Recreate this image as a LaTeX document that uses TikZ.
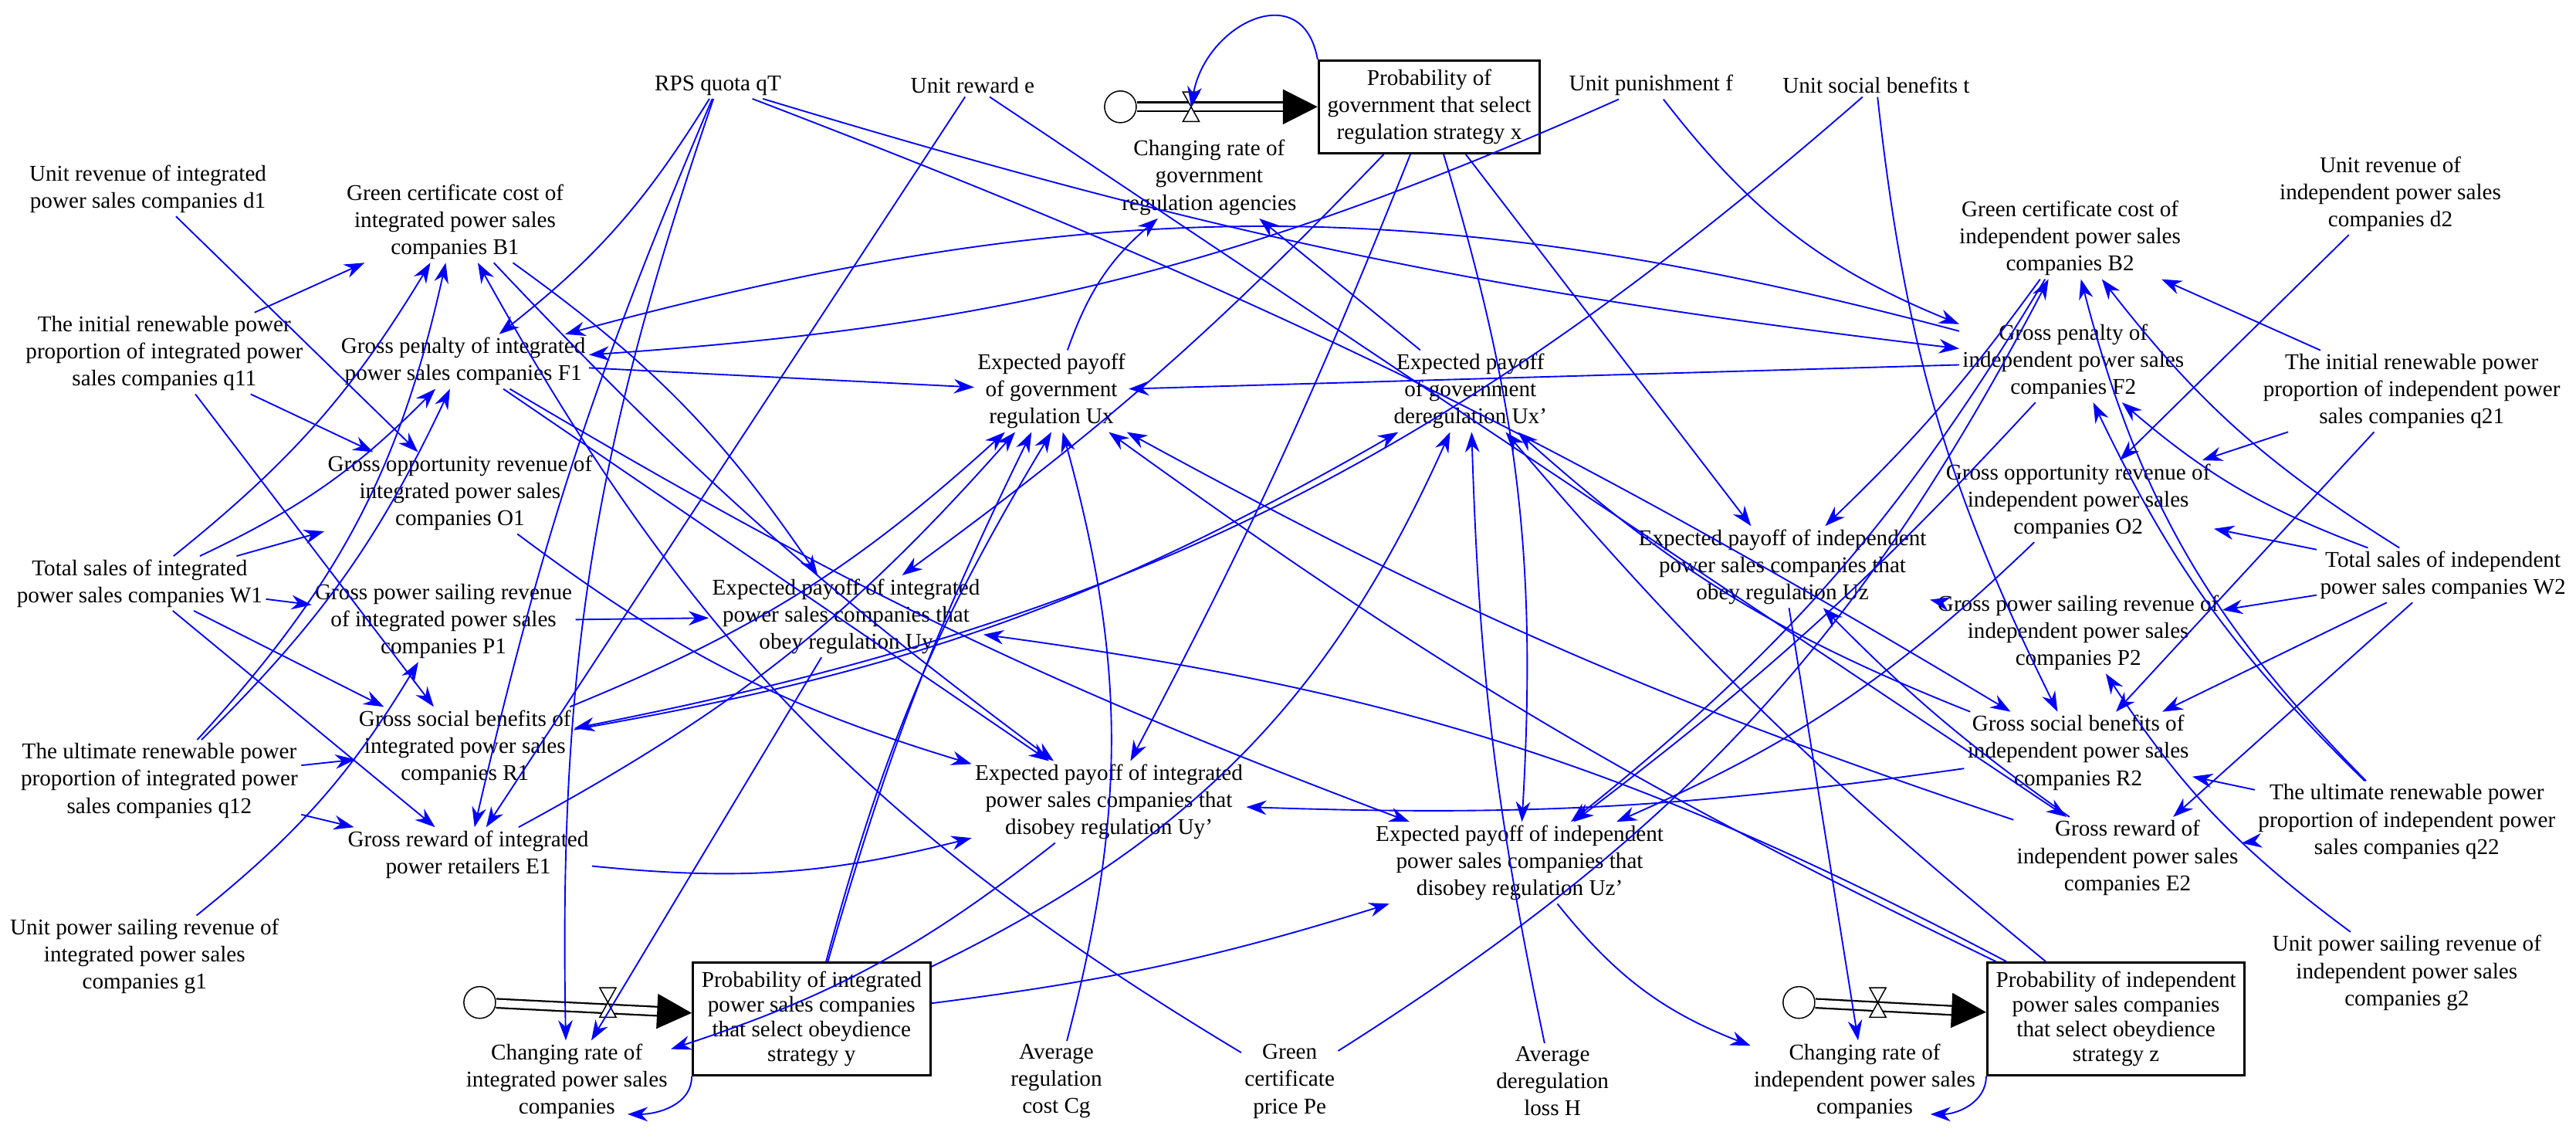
\documentclass[tikz,border=0pt]{standalone}
\usepackage{fontspec}
\setmainfont{Liberation Serif}
\usetikzlibrary{arrows.meta}
\begin{document}
\begin{tikzpicture}[x=0.02cm,y=-0.02cm,
 lab/.style={align=center,font=\fontsize{7.8}{9.4}\selectfont,inner sep=1pt},
 stock/.style={lab,draw,thick,inner sep=3pt,fill=white},
 arr/.style={-{Stealth[length=7pt,width=5pt]},blue,line width=0.5pt},
 pipe/.style={double distance=2.5pt,line width=0.6pt}]
\useasboundingbox (0,0) rectangle (1568,693);
% variables
\node[lab] (qT) at (437,52) {RPS quota qT};
\node[lab] (e) at (592,52) {Unit reward e};
\node[lab] (f) at (1005,52) {Unit punishment f};
\node[lab] (t) at (1142,52) {Unit social benefits t};
\node[stock] (X) at (870,65) {Probability of\\government that select\\regulation strategy x};
\node[lab] (gx) at (736,108) {Changing rate of\\government\\regulation agencies};
\node[lab] (d1) at (90,115) {Unit revenue of integrated\\power sales companies d1};
\node[lab] (B1) at (277,135) {Green certificate cost of\\integrated power sales\\companies B1};
\node[lab] (q11) at (100,215) {The initial renewable power\\proportion of integrated power\\sales companies q11};
\node[lab] (F1) at (282,220) {Gross penalty of integrated\\power sales companies F1};
\node[lab] (Ux) at (640,238) {Expected payoff\\of government\\regulation Ux};
\node[lab] (Uxp) at (895,238) {Expected payoff\\of government\\deregulation Ux'};
\node[lab] (O1) at (280,300) {Gross opportunity revenue of\\integrated power sales\\companies O1};
\node[lab] (W1) at (85,355) {Total sales of integrated\\power sales companies W1};
\node[lab] (P1) at (270,378) {Gross power sailing revenue\\of integrated power sales\\companies P1};
\node[lab] (Uy) at (515,375) {Expected payoff of integrated\\power sales companies that\\obey regulation Uy};
\node[lab] (B2) at (1260,145) {Green certificate cost of\\independent power sales\\companies B2};
\node[lab] (d2) at (1455,118) {Unit revenue of\\independent power sales\\companies d2};
\node[lab] (F2) at (1262,220) {Gross penalty of\\independent power sales\\companies F2};
\node[lab] (q21) at (1468,238) {The initial renewable power\\proportion of independent power\\sales companies q21};
\node[lab] (O2) at (1265,305) {Gross opportunity revenue of\\independent power sales\\companies O2};
\node[lab] (W2) at (1487,350) {Total sales of independent\\power sales companies W2};
\node[lab] (Uz) at (1085,345) {Expected payoff of independent\\power sales companies that\\obey regulation Uz};
\node[lab] (P2) at (1265,385) {Gross power sailing revenue of\\independent power sales\\companies P2};
\node[lab] (R1) at (283,455) {Gross social benefits of\\integrated power sales\\companies R1};
\node[lab] (q12) at (97,475) {The ultimate renewable power\\proportion of integrated power\\sales companies q12};
\node[lab] (Uyp) at (675,488) {Expected payoff of integrated\\power sales companies that\\disobey regulation Uy'};
\node[lab] (R2) at (1265,458) {Gross social benefits of\\independent power sales\\companies R2};
\node[lab] (q22) at (1465,500) {The ultimate renewable power\\proportion of independent power\\sales companies q22};
\node[lab] (E1) at (285,520) {Gross reward of integrated\\power retailers E1};
\node[lab] (Uzp) at (925,525) {Expected payoff of independent\\power sales companies that\\disobey regulation Uz'};
\node[lab] (E2) at (1295,522) {Gross reward of\\independent power sales\\companies E2};
\node[lab] (g1) at (88,582) {Unit power sailing revenue of\\integrated power sales\\companies g1};
\node[lab] (g2) at (1465,592) {Unit power sailing revenue of\\independent power sales\\companies g2};
\node[stock,font=\fontsize{7.8}{8.6}\selectfont] (Y) at (494,620) {Probability of integrated\\power sales companies\\that select obeydience\\strategy y};
\node[lab] (gy) at (345,658) {Changing rate of\\integrated power sales\\companies};
\node[lab] (Cg) at (643,658) {Average\\regulation\\cost Cg};
\node[lab] (Pe) at (785,658) {Green\\certificate\\price Pe};
\node[lab] (H) at (945,658) {Average\\deregulation\\loss H};
\node[stock,font=\fontsize{7.8}{8.6}\selectfont] (Z) at (1288,620) {Probability of independent\\power sales companies\\that select obeydience\\strategy z};
\node[lab] (gz) at (1135,658) {Changing rate of\\independent power sales\\companies};
% flows: clouds, pipes, valves
\foreach \cx/\cy/\vx/\st/\nm in {682/65/725/X/vx,292/610/370/Y/vy,1095/610/1143/Z/vz}{
 \node[draw,circle,inner sep=0pt,minimum size=11pt,fill=white] (c\nm) at (\cx,\cy) {};
 \coordinate (\nm) at (\vx,\cy);
 \draw[pipe,-{Triangle[length=12pt,width=12pt]}] (c\nm) -- (\st);
 \draw[fill=white] (\vx-5,\cy-9) -- (\vx+5,\cy-9) -- (\vx-5,\cy+9) -- (\vx+5,\cy+9) -- cycle;
}
\coordinate (ly) at (382,678);
\coordinate (lz) at (1175,678);
% loops
\draw[arr] (X.north west) to[out=100,in=80,looseness=1.6] (vx);
\draw[arr] (Y.south west) to[out=-90,in=0] (ly);
\draw[arr] (Z.south west) to[out=-90,in=0] (lz);
% left inputs
\foreach \a/\b/\bb in {d1/O1/0,q11/B1/0,q11/R1/0,q11/O1/0,W1/B1/-10,W1/F1/-10,W1/O1/0,W1/P1/0,W1/R1/0,W1/E1/0,q12/B1/-15,q12/F1/-10,q12/R1/0,q12/E1/0,g1/P1/-10}
 \draw[arr] (\a) to[bend left=\bb] (\b);
% right inputs
\foreach \a/\b/\bb in {d2/O2/0,q21/B2/0,q21/O2/0,q21/R2/0,W2/B2/10,W2/F2/10,W2/O2/0,W2/P2/0,W2/R2/0,W2/E2/0,q22/B2/15,q22/F2/10,q22/R2/0,q22/E2/0,g2/P2/10}
 \draw[arr] (\a) to[bend left=\bb] (\b);
% top constants
\draw[arr] (qT) to[bend left=10] (F1);
\draw[arr] (qT) to[bend left=-5] (E1);
\draw[arr] (qT) to[bend left=-5] (F2);
\draw[arr] (qT) to[bend left=5] (R2);
\draw[arr] (qT) to[bend left=-10] (gy);
\draw[arr] (e) -- (E1);
\draw[arr] (e) -- (E2);
\draw[arr] (f) to[bend left=10] (F1);
\draw[arr] (f) to[bend left=-15] (F2);
\draw[arr] (t) to[bend left=15] (R1);
\draw[arr] (t) to[bend left=-10] (R2);
% to payoffs
\draw[arr] (F1) -- (Ux);
\draw[arr] (F1) -- (Uyp);
\draw[arr] (F1) to[bend left=-5] (Uzp);
\draw[arr] (B1) to[bend left=10] (Uy);
\draw[arr] (B1) to[bend left=-5] (Uyp);
\draw[arr] (O1) to[bend left=-10] (Uyp);
\draw[arr] (P1) -- (Uy);
\draw[arr] (R1) to[bend left=-10] (Ux);
\draw[arr] (R1) to[bend left=-10] (Uxp);
\draw[arr] (E1) to[bend left=-10] (Ux);
\draw[arr] (E1) to[bend left=-10] (Uyp);
\draw[arr] (F2) -- (Ux);
\draw[arr] (F2) to[bend left=5] (Uzp);
\draw[arr] (B2) to[bend left=5] (Uz);
\draw[arr] (B2) to[bend left=10] (Uzp);
\draw[arr] (O2) to[bend left=10] (Uzp);
\draw[arr] (P2) -- (Uz);
\draw[arr] (R2) to[bend left=10] (Uxp);
\draw[arr] (R2) to[bend left=5] (Uyp);
\draw[arr] (E2) to[bend left=5] (Ux);
\draw[arr] (E2) to[bend left=5] (Uz);
\draw[arr] (F2) to[bend left=-15] (F1);
% stocks to payoffs
\draw[arr] (X) to[bend left=5] (Uy);
\draw[arr] (X) to[bend left=3] (Uyp);
\draw[arr] (X) to[bend left=10] (Uzp);
\draw[arr] (X) -- (Uz);
\draw[arr] (Y) to[bend left=5] (Ux);
\draw[arr] (Y) to[bend left=8] (Ux.south);
\draw[arr] (Y) to[bend left=-5] (Uzp);
\draw[arr] (Y) to[bend left=-20] (Uxp);
\draw[arr] (Z) to[bend left=5] (Ux);
\draw[arr] (Z) to[bend left=5] (Uxp);
\draw[arr] (Z) to[bend left=-10] (Uy);
% costs
\draw[arr] (Cg) to[bend left=-15] (Ux);
\draw[arr] (Pe) to[bend left=15] (B1);
\draw[arr] (Pe) to[bend left=-15] (B2);
\draw[arr] (H) to[bend left=5] (Uxp);
% payoffs to rates
\draw[arr] (Ux) to[bend left=15] (gx);
\draw[arr] (Uxp) -- (gx);
\draw[arr] (Uy) -- (gy);
\draw[arr] (Uyp) to[bend left=10] (gy);
\draw[arr] (Uz) -- (gz);
\draw[arr] (Uzp) to[bend left=-15] (gz);
\end{tikzpicture}
\end{document}
